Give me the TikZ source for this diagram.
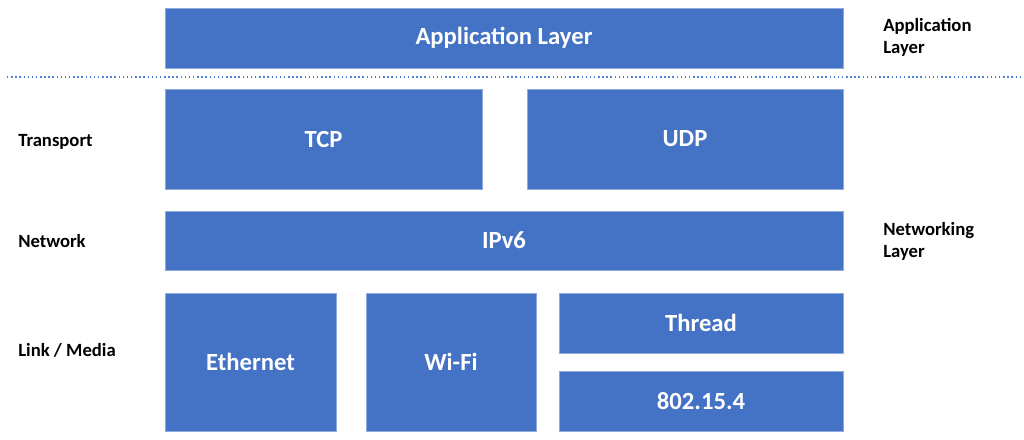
\documentclass[tikz,border=0pt]{standalone}
\usepackage{fontspec}
\setmainfont{Carlito}
\usepackage{xcolor}
\usepackage{tikz}
\usetikzlibrary{positioning}

\definecolor{boxblue}{HTML}{4472C4}
\definecolor{boxedge}{HTML}{8FAADC}
\definecolor{dotblue}{HTML}{4F7FD6}

\begin{document}
\begin{tikzpicture}[x=0.75pt, y=-0.75pt]
  \tikzstyle{layer}=[draw=boxedge, fill=boxblue, text=white, line width=0.5pt,
    inner sep=0pt, font=\bfseries\fontsize{18.5}{22}\selectfont]
  \tikzstyle{side}=[anchor=west, align=left, inner sep=0pt,
    font=\bfseries\fontsize{14}{16.5}\selectfont]
  \useasboundingbox (0,0) rectangle (1024,439);

  % stack of boxes
  \node[layer, minimum width=508.5pt, minimum height=45pt] (app) at (504,38) {Application Layer};
  \node[layer, minimum width=237.75pt, minimum height=75pt] (tcp) at (323.5,139) {TCP};
  \node[layer, minimum width=237pt, minimum height=75pt] (udp) at (685,139) {UDP};
  \node[layer, minimum width=508.5pt, minimum height=44.25pt] (ipv6) at (504,240.5) {IPv6};
  \node[layer, minimum width=128.25pt, minimum height=103.5pt] (eth) at (250.5,362) {Ethernet};
  \node[layer, minimum width=127.5pt, minimum height=103.5pt] (wifi) at (451,362) {Wi-Fi};
  \node[layer, minimum width=213pt, minimum height=45pt] (thread) at (701,323) {Thread};
  \node[layer, minimum width=213pt, minimum height=45pt] (phy) at (701,401) {802.15.4};

  % split between application and networking
  \coordinate (sepL) at (7,77);
  \coordinate (sepR) at (1020,77);
  \draw[dotblue, line width=1.1pt, dotted] (sepL) -- (sepR);

  % row labels
  \node[side] (transport) at (18,142) {Transport};
  \node[side] (network) at (18,241) {Network};
  \node[side] (link) at (18,350) {Link / Media};
  \node[side] (applabel) at (883,37) {Application\\Layer};
  \node[side] (netlabel) at (883,241) {Networking\\Layer};
\end{tikzpicture}
\end{document}
